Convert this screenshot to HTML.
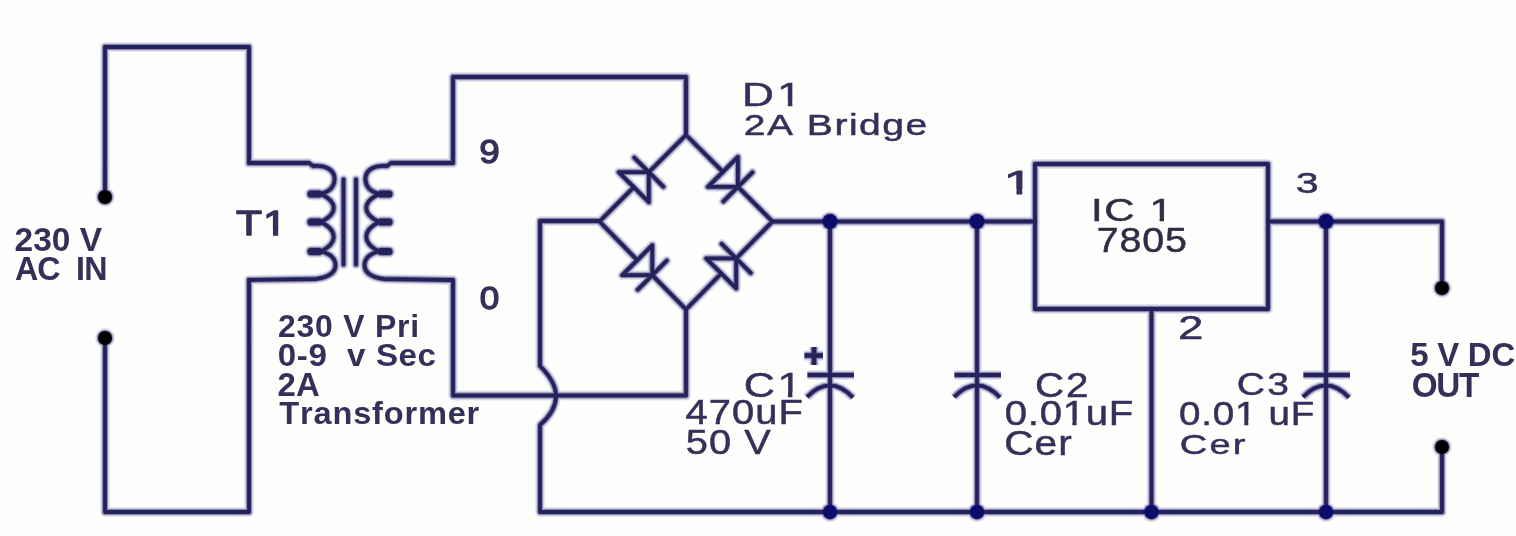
<!DOCTYPE html>
<html><head><meta charset="utf-8"><style>
html,body{margin:0;padding:0;background:#fefefc;}
body{width:1516px;height:536px;overflow:hidden;}
svg{display:block;will-change:transform;}
text{font-family:"Liberation Sans",sans-serif;font-kerning:none;}
</style></head><body>
<svg width="1516" height="536" viewBox="0 0 1516 536">
<rect width="1516" height="536" fill="#fefefc"/>
<g transform="translate(15.70,251.23) scale(1.0015,1)"><text x="-1.16" y="0" font-size="33.42" font-weight="bold" fill="#33315a" textLength="87.46" lengthAdjust="spacing">230&#160;V</text></g>
<g transform="translate(15.70,279.97) scale(0.9554,1)"><text x="-0.84" y="0" font-size="33.76" font-weight="bold" fill="#33315a" textLength="96.90" lengthAdjust="spacing">AC&#160;&#160;IN</text></g>
<g transform="translate(237.05,235.25) scale(1.2296,1)"><text x="-0.78" y="0" font-size="34.59" font-weight="normal" fill="#33315a" stroke="#33315a" stroke-width="1.30" stroke-linejoin="round" textLength="41.12" lengthAdjust="spacing">T1</text></g>
<g transform="translate(279.10,337.27) scale(1.0481,1)"><text x="-1.06" y="0" font-size="30.45" font-weight="bold" fill="#33315a" textLength="134.69" lengthAdjust="spacing">230&#160;V&#160;Pri</text></g>
<g transform="translate(279.10,365.69) scale(1.0346,1)"><text x="-1.27" y="0" font-size="32.06" font-weight="bold" fill="#33315a" textLength="152.99" lengthAdjust="spacing">0-9&#160;&#160;v&#160;Sec</text></g>
<g transform="translate(278.70,396.20) scale(1.0035,1)"><text x="-1.14" y="0" font-size="32.80" font-weight="bold" fill="#33315a" textLength="42.06" lengthAdjust="spacing">2A</text></g>
<g transform="translate(279.70,424.19) scale(1.0412,1)"><text x="-0.35" y="0" font-size="31.32" font-weight="bold" fill="#33315a" textLength="192.05" lengthAdjust="spacing">Transformer</text></g>
<g transform="translate(480.85,162.72) scale(1.0812,1)"><text x="-1.60" y="0" font-size="34.04" font-weight="normal" fill="#33315a" stroke="#33315a" stroke-width="1.30" stroke-linejoin="round">9</text></g>
<g transform="translate(481.05,308.65) scale(1.1362,1)"><text x="-1.21" y="0" font-size="30.93" font-weight="normal" fill="#33315a" stroke="#33315a" stroke-width="1.30" stroke-linejoin="round">0</text></g>
<g transform="translate(745.65,105.75) scale(1.3211,1)"><text x="-2.74" y="0" font-size="33.43" font-weight="normal" fill="#33315a" stroke="#33315a" stroke-width="0.50" stroke-linejoin="round" textLength="45.10" lengthAdjust="spacing">D1</text></g>
<g transform="translate(745.65,134.63) scale(1.3233,1)"><text x="-1.48" y="0" font-size="29.50" font-weight="normal" fill="#33315a" stroke="#33315a" stroke-width="0.50" stroke-linejoin="round" textLength="138.74" lengthAdjust="spacing">2A&#160;Bridge</text></g>
<g transform="translate(1008.65,193.65) scale(1.5875,1)"><text x="-3.26" y="0" font-size="33.87" font-weight="normal" fill="#33315a" stroke="#33315a" stroke-width="0.90" stroke-linejoin="round">1</text></g>
<g transform="translate(1094.95,220.84) scale(1.3312,1)"><text x="-2.91" y="0" font-size="31.50" font-weight="normal" fill="#2e2d44" stroke="#2e2d44" stroke-width="0.50" stroke-linejoin="round" textLength="61.33" lengthAdjust="spacing">IC&#160;1</text></g>
<g transform="translate(1098.65,252.21) scale(1.1334,1)"><text x="-1.78" y="0" font-size="34.75" font-weight="normal" fill="#2e2d44" stroke="#2e2d44" stroke-width="0.50" stroke-linejoin="round" textLength="79.65" lengthAdjust="spacing">7805</text></g>
<g transform="translate(1297.25,192.85) scale(1.3544,1)"><text x="-1.16" y="0" font-size="30.37" font-weight="normal" fill="#33315a" stroke="#33315a" stroke-width="0.50" stroke-linejoin="round">3</text></g>
<g transform="translate(1180.35,338.95) scale(1.3508,1)"><text x="-1.70" y="0" font-size="33.80" font-weight="normal" fill="#33315a" stroke="#33315a" stroke-width="0.50" stroke-linejoin="round">2</text></g>
<g transform="translate(745.85,397.01) scale(1.2530,1)"><text x="-1.75" y="0" font-size="34.46" font-weight="normal" fill="#33315a" stroke="#33315a" stroke-width="0.50" stroke-linejoin="round" textLength="46.08" lengthAdjust="spacing">C1</text></g>
<g transform="translate(686.35,423.61) scale(1.1636,1)"><text x="-0.79" y="0" font-size="34.32" font-weight="normal" fill="#33315a" stroke="#33315a" stroke-width="0.50" stroke-linejoin="round" textLength="100.99" lengthAdjust="spacing">470uF</text></g>
<g transform="translate(687.35,454.41) scale(1.1604,1)"><text x="-1.37" y="0" font-size="34.32" font-weight="normal" fill="#33315a" stroke="#33315a" stroke-width="0.50" stroke-linejoin="round" textLength="73.22" lengthAdjust="spacing">50&#160;V</text></g>
<g transform="translate(1037.15,397.01) scale(1.1687,1)"><text x="-1.75" y="0" font-size="34.46" font-weight="normal" fill="#33315a" stroke="#33315a" stroke-width="0.50" stroke-linejoin="round" textLength="45.67" lengthAdjust="spacing">C2</text></g>
<g transform="translate(1006.35,424.60) scale(1.1220,1)"><text x="-1.40" y="0" font-size="35.73" font-weight="normal" fill="#33315a" stroke="#33315a" stroke-width="0.50" stroke-linejoin="round" textLength="114.42" lengthAdjust="spacing">0.01uF</text></g>
<g transform="translate(1006.35,455.40) scale(1.1359,1)"><text x="-1.81" y="0" font-size="35.73" font-weight="normal" fill="#33315a" stroke="#33315a" stroke-width="0.50" stroke-linejoin="round" textLength="59.37" lengthAdjust="spacing">Cer</text></g>
<g transform="translate(1238.75,394.54) scale(1.2275,1)"><text x="-1.61" y="0" font-size="31.78" font-weight="normal" fill="#33315a" stroke="#33315a" stroke-width="0.50" stroke-linejoin="round" textLength="42.60" lengthAdjust="spacing">C3</text></g>
<g transform="translate(1180.55,424.82) scale(1.1512,1)"><text x="-1.31" y="0" font-size="33.47" font-weight="normal" fill="#33315a" stroke="#33315a" stroke-width="0.50" stroke-linejoin="round" textLength="117.49" lengthAdjust="spacing">0.01&#160;uF</text></g>
<g transform="translate(1181.75,454.07) scale(1.3331,1)"><text x="-1.45" y="0" font-size="28.53" font-weight="normal" fill="#33315a" stroke="#33315a" stroke-width="0.50" stroke-linejoin="round" textLength="49.26" lengthAdjust="spacing">Cer</text></g>
<g transform="translate(1411.20,365.97) scale(0.9886,1)"><text x="-1.03" y="0" font-size="33.33" font-weight="bold" fill="#33315a" textLength="106.23" lengthAdjust="spacing">5&#160;V&#160;DC</text></g>
<g transform="translate(1413.00,396.76) scale(0.9624,1)"><text x="-1.42" y="0" font-size="34.60" font-weight="bold" fill="#33315a" textLength="70.37" lengthAdjust="spacing">OUT</text></g>
<path d="M264.38,230.42 H272.94 V237.10 H264.38 Z M278.20,230.42 H286.42 V237.10 H278.20 Z" fill="#fefefc"/>
<path d="M778.96,101.40 H787.80 V107.20 H778.96 Z M792.40,101.40 H800.90 V107.20 H792.40 Z" fill="#fefefc"/>
<path d="M1005.92,189.07 H1016.45 V195.30 H1005.92 Z M1022.30,189.07 H1032.40 V195.30 H1022.30 Z" fill="#fefefc"/>
<path d="M1151.14,216.64 H1159.59 V222.29 H1151.14 Z M1164.00,216.64 H1172.12 V222.29 H1164.00 Z" fill="#fefefc"/>
<path d="M779.21,392.59 H787.88 V398.46 H779.21 Z M792.40,392.59 H800.73 V398.46 H792.40 Z" fill="#fefefc"/>
<path d="M1064.25,420.08 H1072.38 V426.05 H1064.25 Z M1076.62,420.08 H1084.44 V426.05 H1076.62 Z" fill="#fefefc"/>
<path d="M1236.38,420.47 H1244.24 V426.27 H1236.38 Z M1248.35,420.47 H1255.90 V426.27 H1248.35 Z" fill="#fefefc"/>
<g fill="none" stroke="#e6e6f0" stroke-linejoin="round" stroke-linecap="round">
<path d="M105,197 L105,47 L249,47 L249,163" stroke-width="9.8"/>
<path d="M105,338 L105,512 L249,512 L249,280" stroke-width="9.8"/>
<path d="M249.0,163 L309.0,163 L313.0,166 C329.0,165 335.0,172 334.5,180 C334.0,188 328.0,192 321.0,194 C338.0,202.4 338.0,213.6 321.0,222 C338.0,230.8 338.0,242.7 321.0,251.5 C329.0,253.0 335.5,258 335.5,265 C335.5,272 330.0,277 316.0,279 L249.0,280" stroke-width="9.8"/>
<path d="M311.0,194 L319.0,194" stroke-width="13"/>
<path d="M311.0,222 L319.0,222" stroke-width="13"/>
<path d="M311.0,251.5 L319.0,251.5" stroke-width="13"/>
<path d="M451.0,163 L391.0,163 L387.0,166 C371.0,165 365.0,172 365.5,180 C366.0,188 372.0,192 379.0,194 C362.0,202.4 362.0,213.6 379.0,222 C362.0,230.8 362.0,242.7 379.0,251.5 C371.0,253.0 364.5,258 364.5,265 C364.5,272 370.0,277 384.0,279 L451.0,280" stroke-width="9.8"/>
<path d="M389.0,194 L381.0,194" stroke-width="13"/>
<path d="M389.0,222 L381.0,222" stroke-width="13"/>
<path d="M389.0,251.5 L381.0,251.5" stroke-width="13"/>
<path d="M343.5,179.5 L343.5,264.5" stroke-width="9.8"/>
<path d="M356,179.5 L356,264.5" stroke-width="9.8"/>
<path d="M451,163 L453,163 L453,77 L686,77 L686,135" stroke-width="9.8"/>
<path d="M451,280 L453,280 L453,395.5 L686,395.5 L686,309.5" stroke-width="9.8"/>
<path d="M599,221 L540,221 L540,366 C548,374 556,384 556,396 C556,408 548,418 540,425 L540,512 L1442,512 L1442,447" stroke-width="9.8"/>
<path d="M599.5,221.5 L633.805,187.195" stroke-width="9.8"/>
<path d="M648.805,172.195 L686,135.0" stroke-width="9.8"/>
<path d="M618.805,172.195 L648.805,172.195 L648.805,202.195 Z" stroke-width="9.8"/>
<path d="M634.305,157.695 L663.305,186.695" stroke-width="9.8"/>
<path d="M686,135.0 L722.9,171.9" stroke-width="9.8"/>
<path d="M737.9,186.9 L772.5,221.5" stroke-width="9.8"/>
<path d="M707.9,186.9 L737.9,186.9 L737.9,156.9 Z" stroke-width="9.8"/>
<path d="M723.4,201.4 L752.4,172.4" stroke-width="9.8"/>
<path d="M599.5,221.5 L637.265,260.18" stroke-width="9.8"/>
<path d="M652.265,275.18 L686,309.5" stroke-width="9.8"/>
<path d="M622.265,275.18 L652.265,275.18 L652.265,245.18 Z" stroke-width="9.8"/>
<path d="M637.765,289.68 L666.765,260.68" stroke-width="9.8"/>
<path d="M686,309.5 L721.17,273.46" stroke-width="9.8"/>
<path d="M736.17,258.46 L772.5,221.5" stroke-width="9.8"/>
<path d="M706.17,258.46 L736.17,258.46 L736.17,288.46 Z" stroke-width="9.8"/>
<path d="M721.67,243.95999999999998 L750.67,272.96" stroke-width="9.8"/>
<path d="M772,221.5 L1035,221.5" stroke-width="9.8"/>
<path d="M1268,221.5 L1442,221.5 L1442,288" stroke-width="9.8"/>
<path d="M1035,164 L1268,164 L1268,309 L1035,309 Z" stroke-width="9.8"/>
<path d="M1151.5,309 L1151.5,512" stroke-width="9.8"/>
<path d="M830,221.5 L830,512" stroke-width="9.8"/>
<path d="M807.5,375 L854,375" stroke-width="9.8" stroke-linecap="butt"/>
<path d="M807,397 Q830,373.5 853,397.5" stroke-width="9.8" stroke-linecap="butt"/>
<path d="M977,221.5 L977,512" stroke-width="9.8"/>
<path d="M954.5,375 L1001,375" stroke-width="9.8" stroke-linecap="butt"/>
<path d="M954,397 Q977,373.5 1000,397.5" stroke-width="9.8" stroke-linecap="butt"/>
<path d="M1326,221.5 L1326,512" stroke-width="9.8"/>
<path d="M1303.5,375 L1350,375" stroke-width="9.8" stroke-linecap="butt"/>
<path d="M1303,397 Q1326,373.5 1349,397.5" stroke-width="9.8" stroke-linecap="butt"/>
<path d="M804.5,355.5 L823,355.5" stroke-width="10.6" stroke-linecap="butt"/>
<path d="M814,347 L814,365" stroke-width="10.6" stroke-linecap="butt"/>
<circle cx="105" cy="197" r="10.0" fill="#e6e6f0" stroke="none"/>
<circle cx="105" cy="338" r="10.0" fill="#e6e6f0" stroke="none"/>
<circle cx="1442" cy="288" r="10.0" fill="#e6e6f0" stroke="none"/>
<circle cx="1442" cy="447" r="10.0" fill="#e6e6f0" stroke="none"/>
<circle cx="830" cy="221.5" r="10.5" fill="#e6e6f0" stroke="none"/>
<circle cx="830" cy="512" r="10.2" fill="#e6e6f0" stroke="none"/>
<circle cx="977" cy="221.5" r="10.5" fill="#e6e6f0" stroke="none"/>
<circle cx="977" cy="512" r="10.2" fill="#e6e6f0" stroke="none"/>
<circle cx="1326" cy="221.5" r="10.5" fill="#e6e6f0" stroke="none"/>
<circle cx="1326" cy="512" r="10.2" fill="#e6e6f0" stroke="none"/>
<circle cx="1151.5" cy="512" r="10.2" fill="#e6e6f0" stroke="none"/>
</g>
<g fill="none" stroke="#cbcae0" stroke-linejoin="round" stroke-linecap="round">
<path d="M105,197 L105,47 L249,47 L249,163" stroke-width="7.8"/>
<path d="M105,338 L105,512 L249,512 L249,280" stroke-width="7.8"/>
<path d="M249.0,163 L309.0,163 L313.0,166 C329.0,165 335.0,172 334.5,180 C334.0,188 328.0,192 321.0,194 C338.0,202.4 338.0,213.6 321.0,222 C338.0,230.8 338.0,242.7 321.0,251.5 C329.0,253.0 335.5,258 335.5,265 C335.5,272 330.0,277 316.0,279 L249.0,280" stroke-width="7.8"/>
<path d="M311.0,194 L319.0,194" stroke-width="11"/>
<path d="M311.0,222 L319.0,222" stroke-width="11"/>
<path d="M311.0,251.5 L319.0,251.5" stroke-width="11"/>
<path d="M451.0,163 L391.0,163 L387.0,166 C371.0,165 365.0,172 365.5,180 C366.0,188 372.0,192 379.0,194 C362.0,202.4 362.0,213.6 379.0,222 C362.0,230.8 362.0,242.7 379.0,251.5 C371.0,253.0 364.5,258 364.5,265 C364.5,272 370.0,277 384.0,279 L451.0,280" stroke-width="7.8"/>
<path d="M389.0,194 L381.0,194" stroke-width="11"/>
<path d="M389.0,222 L381.0,222" stroke-width="11"/>
<path d="M389.0,251.5 L381.0,251.5" stroke-width="11"/>
<path d="M343.5,179.5 L343.5,264.5" stroke-width="7.8"/>
<path d="M356,179.5 L356,264.5" stroke-width="7.8"/>
<path d="M451,163 L453,163 L453,77 L686,77 L686,135" stroke-width="7.8"/>
<path d="M451,280 L453,280 L453,395.5 L686,395.5 L686,309.5" stroke-width="7.8"/>
<path d="M599,221 L540,221 L540,366 C548,374 556,384 556,396 C556,408 548,418 540,425 L540,512 L1442,512 L1442,447" stroke-width="7.8"/>
<path d="M599.5,221.5 L633.805,187.195" stroke-width="7.8"/>
<path d="M648.805,172.195 L686,135.0" stroke-width="7.8"/>
<path d="M618.805,172.195 L648.805,172.195 L648.805,202.195 Z" stroke-width="7.8"/>
<path d="M634.305,157.695 L663.305,186.695" stroke-width="7.8"/>
<path d="M686,135.0 L722.9,171.9" stroke-width="7.8"/>
<path d="M737.9,186.9 L772.5,221.5" stroke-width="7.8"/>
<path d="M707.9,186.9 L737.9,186.9 L737.9,156.9 Z" stroke-width="7.8"/>
<path d="M723.4,201.4 L752.4,172.4" stroke-width="7.8"/>
<path d="M599.5,221.5 L637.265,260.18" stroke-width="7.8"/>
<path d="M652.265,275.18 L686,309.5" stroke-width="7.8"/>
<path d="M622.265,275.18 L652.265,275.18 L652.265,245.18 Z" stroke-width="7.8"/>
<path d="M637.765,289.68 L666.765,260.68" stroke-width="7.8"/>
<path d="M686,309.5 L721.17,273.46" stroke-width="7.8"/>
<path d="M736.17,258.46 L772.5,221.5" stroke-width="7.8"/>
<path d="M706.17,258.46 L736.17,258.46 L736.17,288.46 Z" stroke-width="7.8"/>
<path d="M721.67,243.95999999999998 L750.67,272.96" stroke-width="7.8"/>
<path d="M772,221.5 L1035,221.5" stroke-width="7.8"/>
<path d="M1268,221.5 L1442,221.5 L1442,288" stroke-width="7.8"/>
<path d="M1035,164 L1268,164 L1268,309 L1035,309 Z" stroke-width="7.8"/>
<path d="M1151.5,309 L1151.5,512" stroke-width="7.8"/>
<path d="M830,221.5 L830,512" stroke-width="7.8"/>
<path d="M807.5,375 L854,375" stroke-width="7.8" stroke-linecap="butt"/>
<path d="M807,397 Q830,373.5 853,397.5" stroke-width="7.8" stroke-linecap="butt"/>
<path d="M977,221.5 L977,512" stroke-width="7.8"/>
<path d="M954.5,375 L1001,375" stroke-width="7.8" stroke-linecap="butt"/>
<path d="M954,397 Q977,373.5 1000,397.5" stroke-width="7.8" stroke-linecap="butt"/>
<path d="M1326,221.5 L1326,512" stroke-width="7.8"/>
<path d="M1303.5,375 L1350,375" stroke-width="7.8" stroke-linecap="butt"/>
<path d="M1303,397 Q1326,373.5 1349,397.5" stroke-width="7.8" stroke-linecap="butt"/>
<path d="M804.5,355.5 L823,355.5" stroke-width="8.6" stroke-linecap="butt"/>
<path d="M814,347 L814,365" stroke-width="8.6" stroke-linecap="butt"/>
<circle cx="105" cy="197" r="9.0" fill="#cbcae0" stroke="none"/>
<circle cx="105" cy="338" r="9.0" fill="#cbcae0" stroke="none"/>
<circle cx="1442" cy="288" r="9.0" fill="#cbcae0" stroke="none"/>
<circle cx="1442" cy="447" r="9.0" fill="#cbcae0" stroke="none"/>
<circle cx="830" cy="221.5" r="9.5" fill="#cbcae0" stroke="none"/>
<circle cx="830" cy="512" r="9.2" fill="#cbcae0" stroke="none"/>
<circle cx="977" cy="221.5" r="9.5" fill="#cbcae0" stroke="none"/>
<circle cx="977" cy="512" r="9.2" fill="#cbcae0" stroke="none"/>
<circle cx="1326" cy="221.5" r="9.5" fill="#cbcae0" stroke="none"/>
<circle cx="1326" cy="512" r="9.2" fill="#cbcae0" stroke="none"/>
<circle cx="1151.5" cy="512" r="9.2" fill="#cbcae0" stroke="none"/>
</g>
<g fill="none" stroke="#8a88b0" stroke-linejoin="round" stroke-linecap="round">
<path d="M105,197 L105,47 L249,47 L249,163" stroke-width="5.8"/>
<path d="M105,338 L105,512 L249,512 L249,280" stroke-width="5.8"/>
<path d="M249.0,163 L309.0,163 L313.0,166 C329.0,165 335.0,172 334.5,180 C334.0,188 328.0,192 321.0,194 C338.0,202.4 338.0,213.6 321.0,222 C338.0,230.8 338.0,242.7 321.0,251.5 C329.0,253.0 335.5,258 335.5,265 C335.5,272 330.0,277 316.0,279 L249.0,280" stroke-width="5.8"/>
<path d="M311.0,194 L319.0,194" stroke-width="9"/>
<path d="M311.0,222 L319.0,222" stroke-width="9"/>
<path d="M311.0,251.5 L319.0,251.5" stroke-width="9"/>
<path d="M451.0,163 L391.0,163 L387.0,166 C371.0,165 365.0,172 365.5,180 C366.0,188 372.0,192 379.0,194 C362.0,202.4 362.0,213.6 379.0,222 C362.0,230.8 362.0,242.7 379.0,251.5 C371.0,253.0 364.5,258 364.5,265 C364.5,272 370.0,277 384.0,279 L451.0,280" stroke-width="5.8"/>
<path d="M389.0,194 L381.0,194" stroke-width="9"/>
<path d="M389.0,222 L381.0,222" stroke-width="9"/>
<path d="M389.0,251.5 L381.0,251.5" stroke-width="9"/>
<path d="M343.5,179.5 L343.5,264.5" stroke-width="5.8"/>
<path d="M356,179.5 L356,264.5" stroke-width="5.8"/>
<path d="M451,163 L453,163 L453,77 L686,77 L686,135" stroke-width="5.8"/>
<path d="M451,280 L453,280 L453,395.5 L686,395.5 L686,309.5" stroke-width="5.8"/>
<path d="M599,221 L540,221 L540,366 C548,374 556,384 556,396 C556,408 548,418 540,425 L540,512 L1442,512 L1442,447" stroke-width="5.8"/>
<path d="M599.5,221.5 L633.805,187.195" stroke-width="5.8"/>
<path d="M648.805,172.195 L686,135.0" stroke-width="5.8"/>
<path d="M618.805,172.195 L648.805,172.195 L648.805,202.195 Z" stroke-width="5.8"/>
<path d="M634.305,157.695 L663.305,186.695" stroke-width="5.8"/>
<path d="M686,135.0 L722.9,171.9" stroke-width="5.8"/>
<path d="M737.9,186.9 L772.5,221.5" stroke-width="5.8"/>
<path d="M707.9,186.9 L737.9,186.9 L737.9,156.9 Z" stroke-width="5.8"/>
<path d="M723.4,201.4 L752.4,172.4" stroke-width="5.8"/>
<path d="M599.5,221.5 L637.265,260.18" stroke-width="5.8"/>
<path d="M652.265,275.18 L686,309.5" stroke-width="5.8"/>
<path d="M622.265,275.18 L652.265,275.18 L652.265,245.18 Z" stroke-width="5.8"/>
<path d="M637.765,289.68 L666.765,260.68" stroke-width="5.8"/>
<path d="M686,309.5 L721.17,273.46" stroke-width="5.8"/>
<path d="M736.17,258.46 L772.5,221.5" stroke-width="5.8"/>
<path d="M706.17,258.46 L736.17,258.46 L736.17,288.46 Z" stroke-width="5.8"/>
<path d="M721.67,243.95999999999998 L750.67,272.96" stroke-width="5.8"/>
<path d="M772,221.5 L1035,221.5" stroke-width="5.8"/>
<path d="M1268,221.5 L1442,221.5 L1442,288" stroke-width="5.8"/>
<path d="M1035,164 L1268,164 L1268,309 L1035,309 Z" stroke-width="5.8"/>
<path d="M1151.5,309 L1151.5,512" stroke-width="5.8"/>
<path d="M830,221.5 L830,512" stroke-width="5.8"/>
<path d="M807.5,375 L854,375" stroke-width="5.8" stroke-linecap="butt"/>
<path d="M807,397 Q830,373.5 853,397.5" stroke-width="5.8" stroke-linecap="butt"/>
<path d="M977,221.5 L977,512" stroke-width="5.8"/>
<path d="M954.5,375 L1001,375" stroke-width="5.8" stroke-linecap="butt"/>
<path d="M954,397 Q977,373.5 1000,397.5" stroke-width="5.8" stroke-linecap="butt"/>
<path d="M1326,221.5 L1326,512" stroke-width="5.8"/>
<path d="M1303.5,375 L1350,375" stroke-width="5.8" stroke-linecap="butt"/>
<path d="M1303,397 Q1326,373.5 1349,397.5" stroke-width="5.8" stroke-linecap="butt"/>
<path d="M804.5,355.5 L823,355.5" stroke-width="6.6" stroke-linecap="butt"/>
<path d="M814,347 L814,365" stroke-width="6.6" stroke-linecap="butt"/>
<circle cx="105" cy="197" r="8.0" fill="#8a88b0" stroke="none"/>
<circle cx="105" cy="338" r="8.0" fill="#8a88b0" stroke="none"/>
<circle cx="1442" cy="288" r="8.0" fill="#8a88b0" stroke="none"/>
<circle cx="1442" cy="447" r="8.0" fill="#8a88b0" stroke="none"/>
<circle cx="830" cy="221.5" r="8.5" fill="#8a88b0" stroke="none"/>
<circle cx="830" cy="512" r="8.2" fill="#8a88b0" stroke="none"/>
<circle cx="977" cy="221.5" r="8.5" fill="#8a88b0" stroke="none"/>
<circle cx="977" cy="512" r="8.2" fill="#8a88b0" stroke="none"/>
<circle cx="1326" cy="221.5" r="8.5" fill="#8a88b0" stroke="none"/>
<circle cx="1326" cy="512" r="8.2" fill="#8a88b0" stroke="none"/>
<circle cx="1151.5" cy="512" r="8.2" fill="#8a88b0" stroke="none"/>
</g>
<g fill="none" stroke-linejoin="round" stroke-linecap="round">
<path d="M105,197 L105,47 L249,47 L249,163" stroke="#24225a" stroke-width="3.8"/>
<path d="M105,338 L105,512 L249,512 L249,280" stroke="#24225a" stroke-width="3.8"/>
<path d="M249.0,163 L309.0,163 L313.0,166 C329.0,165 335.0,172 334.5,180 C334.0,188 328.0,192 321.0,194 C338.0,202.4 338.0,213.6 321.0,222 C338.0,230.8 338.0,242.7 321.0,251.5 C329.0,253.0 335.5,258 335.5,265 C335.5,272 330.0,277 316.0,279 L249.0,280" stroke="#24225a" stroke-width="3.8"/>
<path d="M311.0,194 L319.0,194" stroke="#24225a" stroke-width="7"/>
<path d="M311.0,222 L319.0,222" stroke="#24225a" stroke-width="7"/>
<path d="M311.0,251.5 L319.0,251.5" stroke="#24225a" stroke-width="7"/>
<path d="M451.0,163 L391.0,163 L387.0,166 C371.0,165 365.0,172 365.5,180 C366.0,188 372.0,192 379.0,194 C362.0,202.4 362.0,213.6 379.0,222 C362.0,230.8 362.0,242.7 379.0,251.5 C371.0,253.0 364.5,258 364.5,265 C364.5,272 370.0,277 384.0,279 L451.0,280" stroke="#24225a" stroke-width="3.8"/>
<path d="M389.0,194 L381.0,194" stroke="#24225a" stroke-width="7"/>
<path d="M389.0,222 L381.0,222" stroke="#24225a" stroke-width="7"/>
<path d="M389.0,251.5 L381.0,251.5" stroke="#24225a" stroke-width="7"/>
<path d="M343.5,179.5 L343.5,264.5" stroke="#24225a" stroke-width="3.8"/>
<path d="M356,179.5 L356,264.5" stroke="#24225a" stroke-width="3.8"/>
<path d="M451,163 L453,163 L453,77 L686,77 L686,135" stroke="#24225a" stroke-width="3.8"/>
<path d="M451,280 L453,280 L453,395.5 L686,395.5 L686,309.5" stroke="#24225a" stroke-width="3.8"/>
<path d="M599,221 L540,221 L540,366 C548,374 556,384 556,396 C556,408 548,418 540,425 L540,512 L1442,512 L1442,447" stroke="#24225a" stroke-width="3.8"/>
<path d="M599.5,221.5 L633.805,187.195" stroke="#24225a" stroke-width="3.8"/>
<path d="M648.805,172.195 L686,135.0" stroke="#24225a" stroke-width="3.8"/>
<path d="M618.805,172.195 L648.805,172.195 L648.805,202.195 Z" stroke="#24225a" stroke-width="3.8"/>
<path d="M634.305,157.695 L663.305,186.695" stroke="#24225a" stroke-width="3.8"/>
<path d="M686,135.0 L722.9,171.9" stroke="#24225a" stroke-width="3.8"/>
<path d="M737.9,186.9 L772.5,221.5" stroke="#24225a" stroke-width="3.8"/>
<path d="M707.9,186.9 L737.9,186.9 L737.9,156.9 Z" stroke="#24225a" stroke-width="3.8"/>
<path d="M723.4,201.4 L752.4,172.4" stroke="#24225a" stroke-width="3.8"/>
<path d="M599.5,221.5 L637.265,260.18" stroke="#24225a" stroke-width="3.8"/>
<path d="M652.265,275.18 L686,309.5" stroke="#24225a" stroke-width="3.8"/>
<path d="M622.265,275.18 L652.265,275.18 L652.265,245.18 Z" stroke="#24225a" stroke-width="3.8"/>
<path d="M637.765,289.68 L666.765,260.68" stroke="#24225a" stroke-width="3.8"/>
<path d="M686,309.5 L721.17,273.46" stroke="#24225a" stroke-width="3.8"/>
<path d="M736.17,258.46 L772.5,221.5" stroke="#24225a" stroke-width="3.8"/>
<path d="M706.17,258.46 L736.17,258.46 L736.17,288.46 Z" stroke="#24225a" stroke-width="3.8"/>
<path d="M721.67,243.95999999999998 L750.67,272.96" stroke="#24225a" stroke-width="3.8"/>
<path d="M772,221.5 L1035,221.5" stroke="#24225a" stroke-width="3.8"/>
<path d="M1268,221.5 L1442,221.5 L1442,288" stroke="#24225a" stroke-width="3.8"/>
<path d="M1035,164 L1268,164 L1268,309 L1035,309 Z" stroke="#24225a" stroke-width="3.8"/>
<path d="M1151.5,309 L1151.5,512" stroke="#24225a" stroke-width="3.8"/>
<path d="M830,221.5 L830,512" stroke="#24225a" stroke-width="3.8"/>
<path d="M807.5,375 L854,375" stroke="#24225a" stroke-width="3.8" stroke-linecap="butt"/>
<path d="M807,397 Q830,373.5 853,397.5" stroke="#24225a" stroke-width="3.8" stroke-linecap="butt"/>
<path d="M977,221.5 L977,512" stroke="#24225a" stroke-width="3.8"/>
<path d="M954.5,375 L1001,375" stroke="#24225a" stroke-width="3.8" stroke-linecap="butt"/>
<path d="M954,397 Q977,373.5 1000,397.5" stroke="#24225a" stroke-width="3.8" stroke-linecap="butt"/>
<path d="M1326,221.5 L1326,512" stroke="#24225a" stroke-width="3.8"/>
<path d="M1303.5,375 L1350,375" stroke="#24225a" stroke-width="3.8" stroke-linecap="butt"/>
<path d="M1303,397 Q1326,373.5 1349,397.5" stroke="#24225a" stroke-width="3.8" stroke-linecap="butt"/>
<path d="M804.5,355.5 L823,355.5" stroke="#24225a" stroke-width="4.6" stroke-linecap="butt"/>
<path d="M814,347 L814,365" stroke="#24225a" stroke-width="4.6" stroke-linecap="butt"/>
</g>
<circle cx="105" cy="197" r="7" fill="#000"/>
<circle cx="105" cy="338" r="7" fill="#000"/>
<circle cx="1442" cy="288" r="7" fill="#000"/>
<circle cx="1442" cy="447" r="7" fill="#000"/>
<circle cx="830" cy="221.5" r="7.5" fill="#0e0c6a"/>
<circle cx="830" cy="512" r="7.2" fill="#0e0c6a"/>
<circle cx="977" cy="221.5" r="7.5" fill="#0e0c6a"/>
<circle cx="977" cy="512" r="7.2" fill="#0e0c6a"/>
<circle cx="1326" cy="221.5" r="7.5" fill="#0e0c6a"/>
<circle cx="1326" cy="512" r="7.2" fill="#0e0c6a"/>
<circle cx="1151.5" cy="512" r="7.2" fill="#0e0c6a"/>
</svg>
</body></html>
